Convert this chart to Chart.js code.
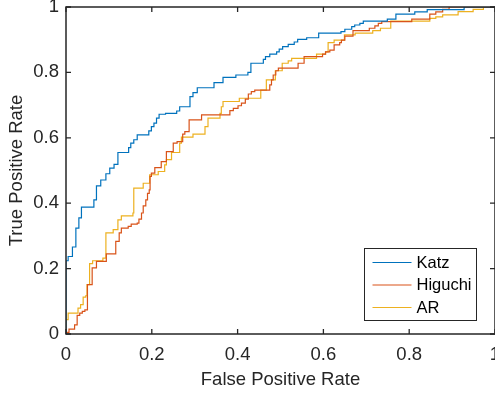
<!DOCTYPE html>
<html>
<head>
<meta charset="utf-8">
<script src="https://cdn.jsdelivr.net/npm/chart.js@4/dist/chart.umd.min.js"></script>
<style>
  html, body { margin: 0; padding: 0; background: #ffffff; }
  #roc { display: block; }
</style>
</head>
<body>
<canvas id="roc" width="495" height="393"></canvas>
<script>
// ROC curves (false positive rate, true positive rate) for three classifiers
const seriesNames = ['Katz', 'Higuchi', 'AR'];
const seriesColors = ['#0072BD', '#D95319', '#EDB120'];

const katzFpr = [0, 0, 0.005, 0.015, 0.023, 0.030, 0.036, 0.065, 0.071, 0.081, 0.093, 0.102, 0.112, 0.121, 0.146, 0.151, 0.158, 0.166, 0.193, 0.199, 0.205, 0.211, 0.217, 0.232, 0.258, 0.265, 0.289, 0.296, 0.306, 0.345, 0.366, 0.396, 0.424, 0.431, 0.460, 0.465, 0.475, 0.491, 0.497, 0.505, 0.518, 0.532, 0.540, 0.561, 0.589, 0.641, 0.650, 0.666, 0.673, 0.685, 0.693, 0.749, 0.769, 0.813, 0.842, 0.928, 1];
const katzTpr = [0, 0.224, 0.237, 0.266, 0.324, 0.355, 0.388, 0.410, 0.453, 0.471, 0.490, 0.507, 0.519, 0.555, 0.570, 0.584, 0.594, 0.609, 0.621, 0.634, 0.645, 0.660, 0.672, 0.675, 0.682, 0.695, 0.726, 0.738, 0.753, 0.769, 0.785, 0.792, 0.800, 0.828, 0.840, 0.848, 0.856, 0.863, 0.871, 0.879, 0.886, 0.893, 0.901, 0.906, 0.920, 0.925, 0.932, 0.940, 0.945, 0.950, 0.957, 0.963, 0.978, 0.985, 0.992, 1, 1];

const higuchiFpr = [0, 0, 0.007, 0.020, 0.026, 0.032, 0.038, 0.044, 0.050, 0.061, 0.071, 0.094, 0.116, 0.124, 0.129, 0.145, 0.152, 0.166, 0.170, 0.176, 0.180, 0.186, 0.190, 0.194, 0.196, 0.199, 0.207, 0.222, 0.234, 0.250, 0.259, 0.272, 0.277, 0.287, 0.316, 0.382, 0.390, 0.401, 0.409, 0.418, 0.425, 0.432, 0.440, 0.475, 0.479, 0.483, 0.489, 0.495, 0.541, 0.555, 0.598, 0.605, 0.615, 0.625, 0.638, 0.642, 0.650, 0.669, 0.707, 0.720, 0.728, 0.736, 0.806, 0.848, 0.862, 0.878, 0.893, 1];
const higuchiTpr = [0, 0.005, 0.015, 0.028, 0.057, 0.064, 0.069, 0.074, 0.151, 0.202, 0.222, 0.245, 0.283, 0.309, 0.324, 0.329, 0.336, 0.339, 0.351, 0.370, 0.392, 0.410, 0.430, 0.441, 0.482, 0.492, 0.509, 0.527, 0.558, 0.584, 0.588, 0.611, 0.619, 0.655, 0.670, 0.683, 0.690, 0.698, 0.706, 0.718, 0.734, 0.741, 0.746, 0.762, 0.777, 0.792, 0.805, 0.813, 0.828, 0.848, 0.856, 0.863, 0.868, 0.884, 0.891, 0.899, 0.911, 0.928, 0.935, 0.942, 0.950, 0.955, 0.963, 0.978, 0.985, 0.993, 1, 1];

const arFpr = [0, 0, 0.005, 0.028, 0.034, 0.040, 0.046, 0.049, 0.055, 0.062, 0.086, 0.093, 0.110, 0.121, 0.129, 0.156, 0.158, 0.180, 0.195, 0.215, 0.230, 0.234, 0.246, 0.265, 0.269, 0.296, 0.324, 0.331, 0.359, 0.362, 0.366, 0.404, 0.454, 0.467, 0.488, 0.504, 0.518, 0.526, 0.584, 0.605, 0.611, 0.625, 0.649, 0.674, 0.715, 0.733, 0.757, 0.848, 0.862, 0.878, 0.914, 0.949, 0.973, 1];
const arTpr = [0, 0.044, 0.064, 0.079, 0.090, 0.113, 0.117, 0.151, 0.215, 0.224, 0.232, 0.309, 0.319, 0.349, 0.361, 0.370, 0.446, 0.461, 0.487, 0.497, 0.517, 0.533, 0.555, 0.584, 0.602, 0.611, 0.634, 0.660, 0.675, 0.695, 0.711, 0.721, 0.746, 0.777, 0.805, 0.828, 0.835, 0.843, 0.856, 0.863, 0.891, 0.899, 0.915, 0.920, 0.928, 0.935, 0.957, 0.965, 0.970, 0.976, 0.986, 0.993, 1, 1];

const tickValues = [0, 0.2, 0.4, 0.6, 0.8, 1];
const xTickLabels = ['0', '0.2', '0.4', '0.6', '0.8', '1'];
const yTickLabels = ['0', '0.2', '0.4', '0.6', '0.8', '1'];
const xTitle = 'False Positive Rate';
const yTitle = 'True Positive Rate';

const FONT = "'Liberation Sans', Arial, Helvetica, sans-serif";
const INK = '#262626';

function toPoints(xs, ys) {
  return xs.map((x, i) => ({ x: x, y: ys[i] }));
}

const curves = [
  toPoints(katzFpr, katzTpr),
  toPoints(higuchiFpr, higuchiTpr),
  toPoints(arFpr, arTpr)
];

// Boxed axes with inward tick marks on all four sides
const axesBox = {
  id: 'axesBox',
  afterDatasetsDraw(chart) {
    const { ctx, chartArea: a, scales } = chart;
    const len = 5;
    ctx.save();
    ctx.strokeStyle = INK;
    ctx.lineWidth = 1.3;
    ctx.beginPath();
    scales.x.ticks.forEach(t => {
      const px = scales.x.getPixelForValue(t.value);
      ctx.moveTo(px, a.bottom); ctx.lineTo(px, a.bottom - len);
      ctx.moveTo(px, a.top); ctx.lineTo(px, a.top + len);
    });
    scales.y.ticks.forEach(t => {
      const py = scales.y.getPixelForValue(t.value);
      ctx.moveTo(a.left, py); ctx.lineTo(a.left + len, py);
      ctx.moveTo(a.right, py); ctx.lineTo(a.right - len, py);
    });
    ctx.stroke();
    ctx.lineWidth = 1.5;
    ctx.strokeRect(a.left, a.top, a.right - a.left, a.bottom - a.top);
    ctx.restore();
  }
};

// Legend box in the lower right corner of the plot area
const cornerLegend = {
  id: 'cornerLegend',
  afterDraw(chart) {
    const { ctx } = chart;
    const left = 364.5, top = 248.5, w = 112, h = 72;
    ctx.save();
    ctx.fillStyle = '#ffffff';
    ctx.fillRect(left, top, w, h);
    ctx.strokeStyle = INK;
    ctx.lineWidth = 1;
    ctx.strokeRect(left, top, w, h);
    ctx.font = '16.5px ' + FONT;
    ctx.textBaseline = 'middle';
    ctx.textAlign = 'left';
    chart.data.datasets.forEach((ds, i) => {
      const y = top + 14 + i * 22.5;
      ctx.strokeStyle = ds.borderColor;
      ctx.lineWidth = 1.2;
      ctx.beginPath();
      ctx.moveTo(left + 8, y);
      ctx.lineTo(left + 47, y);
      ctx.stroke();
      ctx.fillStyle = '#000000';
      ctx.fillText(ds.label, left + 52, y + 0.5);
    });
    ctx.restore();
  }
};

new Chart(document.getElementById('roc'), {
  type: 'scatter',
  data: {
    datasets: curves.map((pts, i) => ({
      label: seriesNames[i],
      data: pts,
      showLine: true,
      stepped: 'before',
      borderColor: seriesColors[i],
      backgroundColor: seriesColors[i],
      borderWidth: 1.2,
      pointRadius: 0,
      pointHoverRadius: 0,
      fill: false
    }))
  },
  options: {
    responsive: false,
    devicePixelRatio: 1,
    animation: false,
    layout: { padding: { top: 7, right: 0, bottom: 0, left: 0 } },
    plugins: {
      legend: { display: false },
      tooltip: { enabled: false }
    },
    scales: {
      x: {
        type: 'linear',
        min: 0,
        max: 1,
        grid: { display: false, drawTicks: false },
        border: { display: false },
        afterBuildTicks(scale) { scale.ticks = tickValues.map(v => ({ value: v })); },
        afterFit(scale) { scale.height = 59; scale.paddingLeft = 0; scale.paddingRight = 0; },
        ticks: {
          autoSkip: false,
          maxRotation: 0,
          padding: 10,
          color: INK,
          font: { family: FONT, size: 18.5 },
          callback: (v, i) => xTickLabels[i]
        },
        title: {
          display: true,
          text: xTitle,
          color: INK,
          font: { family: FONT, size: 18.5 },
          padding: { top: 0, bottom: 2 }
        }
      },
      y: {
        type: 'linear',
        min: 0,
        max: 1,
        grid: { display: false, drawTicks: false },
        border: { display: false },
        afterBuildTicks(scale) { scale.ticks = tickValues.map(v => ({ value: v })); },
        afterFit(scale) { scale.width = 66; scale.paddingTop = 0; scale.paddingBottom = 0; },
        ticks: {
          autoSkip: false,
          padding: 7,
          color: INK,
          font: { family: FONT, size: 18.5 },
          callback: (v, i) => yTickLabels[i]
        },
        title: {
          display: true,
          text: yTitle,
          color: INK,
          font: { family: FONT, size: 18.5 },
          padding: { top: 6, bottom: 0 }
        }
      }
    }
  },
  plugins: [axesBox, cornerLegend]
});
</script>
</body>
</html>
